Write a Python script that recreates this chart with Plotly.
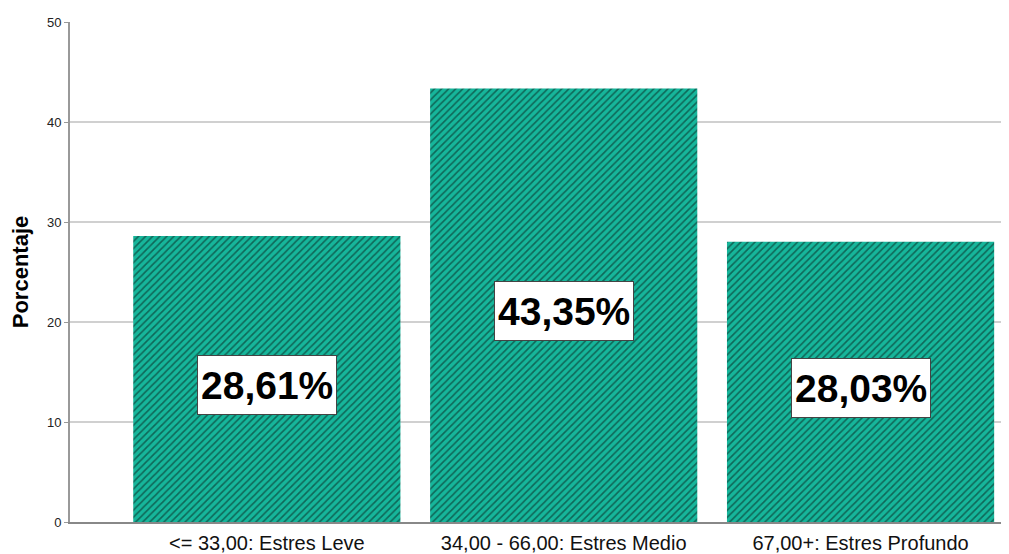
import plotly.graph_objects as go

categories = ["<= 33,00: Estres Leve", "34,00 - 66,00: Estres Medio", "67,00+: Estres Profundo"]
values = [28.61, 43.35, 28.03]
labels = ["28,61%", "43,35%", "28,03%"]
y_ticks = [0, 10, 20, 30, 40, 50]

fig = go.Figure()
fig.add_trace(go.Bar(
    x=list(range(len(categories))), y=values, width=0.9,
    marker=dict(color="#16b69b", line=dict(width=0),
                pattern=dict(shape="/", fgcolor="#061a16", bgcolor="#16b69b", size=5, solidity=0.33)),
    hoverinfo="skip",
))
for i, (v, t) in enumerate(zip(values, labels)):
    fig.add_annotation(x=i, y=v / 2, text=f"<b>{t}</b>", showarrow=False, yshift=-6,
                       font=dict(family="Liberation Sans, Arial", size=39, color="black"),
                       bgcolor="white", bordercolor="#444444", borderwidth=1, borderpad=3, height=52)

# page body has an 8px margin; figure sized to fit the window
fig.update_layout(
    width=1001, height=546, plot_bgcolor="white", paper_bgcolor="white",
    margin=dict(l=62, r=0, t=14, b=32), showlegend=False,
    font=dict(family="Liberation Sans, Arial", color="#222222"),
)
fig.update_xaxes(range=[-0.663, 2.5], tickvals=list(range(len(categories))), ticktext=categories,
                 showline=True, linecolor="#888888", linewidth=2, ticks="", showgrid=False,
                 ticklabelstandoff=2,
                 tickfont=dict(size=20, color="#111111"), zeroline=False, automargin=False)
fig.update_yaxes(range=[0, 50], tickvals=y_ticks, showline=True, linecolor="#999999", linewidth=2,
                 ticks="outside", ticklen=4, tickcolor="#999999", showgrid=True, gridcolor="#d0d0d0",
                 gridwidth=1.5, zeroline=False, tickfont=dict(size=13, color="#222222"),
                 automargin=False,
                 title=dict(text="<b>Porcentaje</b>", font=dict(size=22, color="black"), standoff=35))
fig.write_html("out.html")
